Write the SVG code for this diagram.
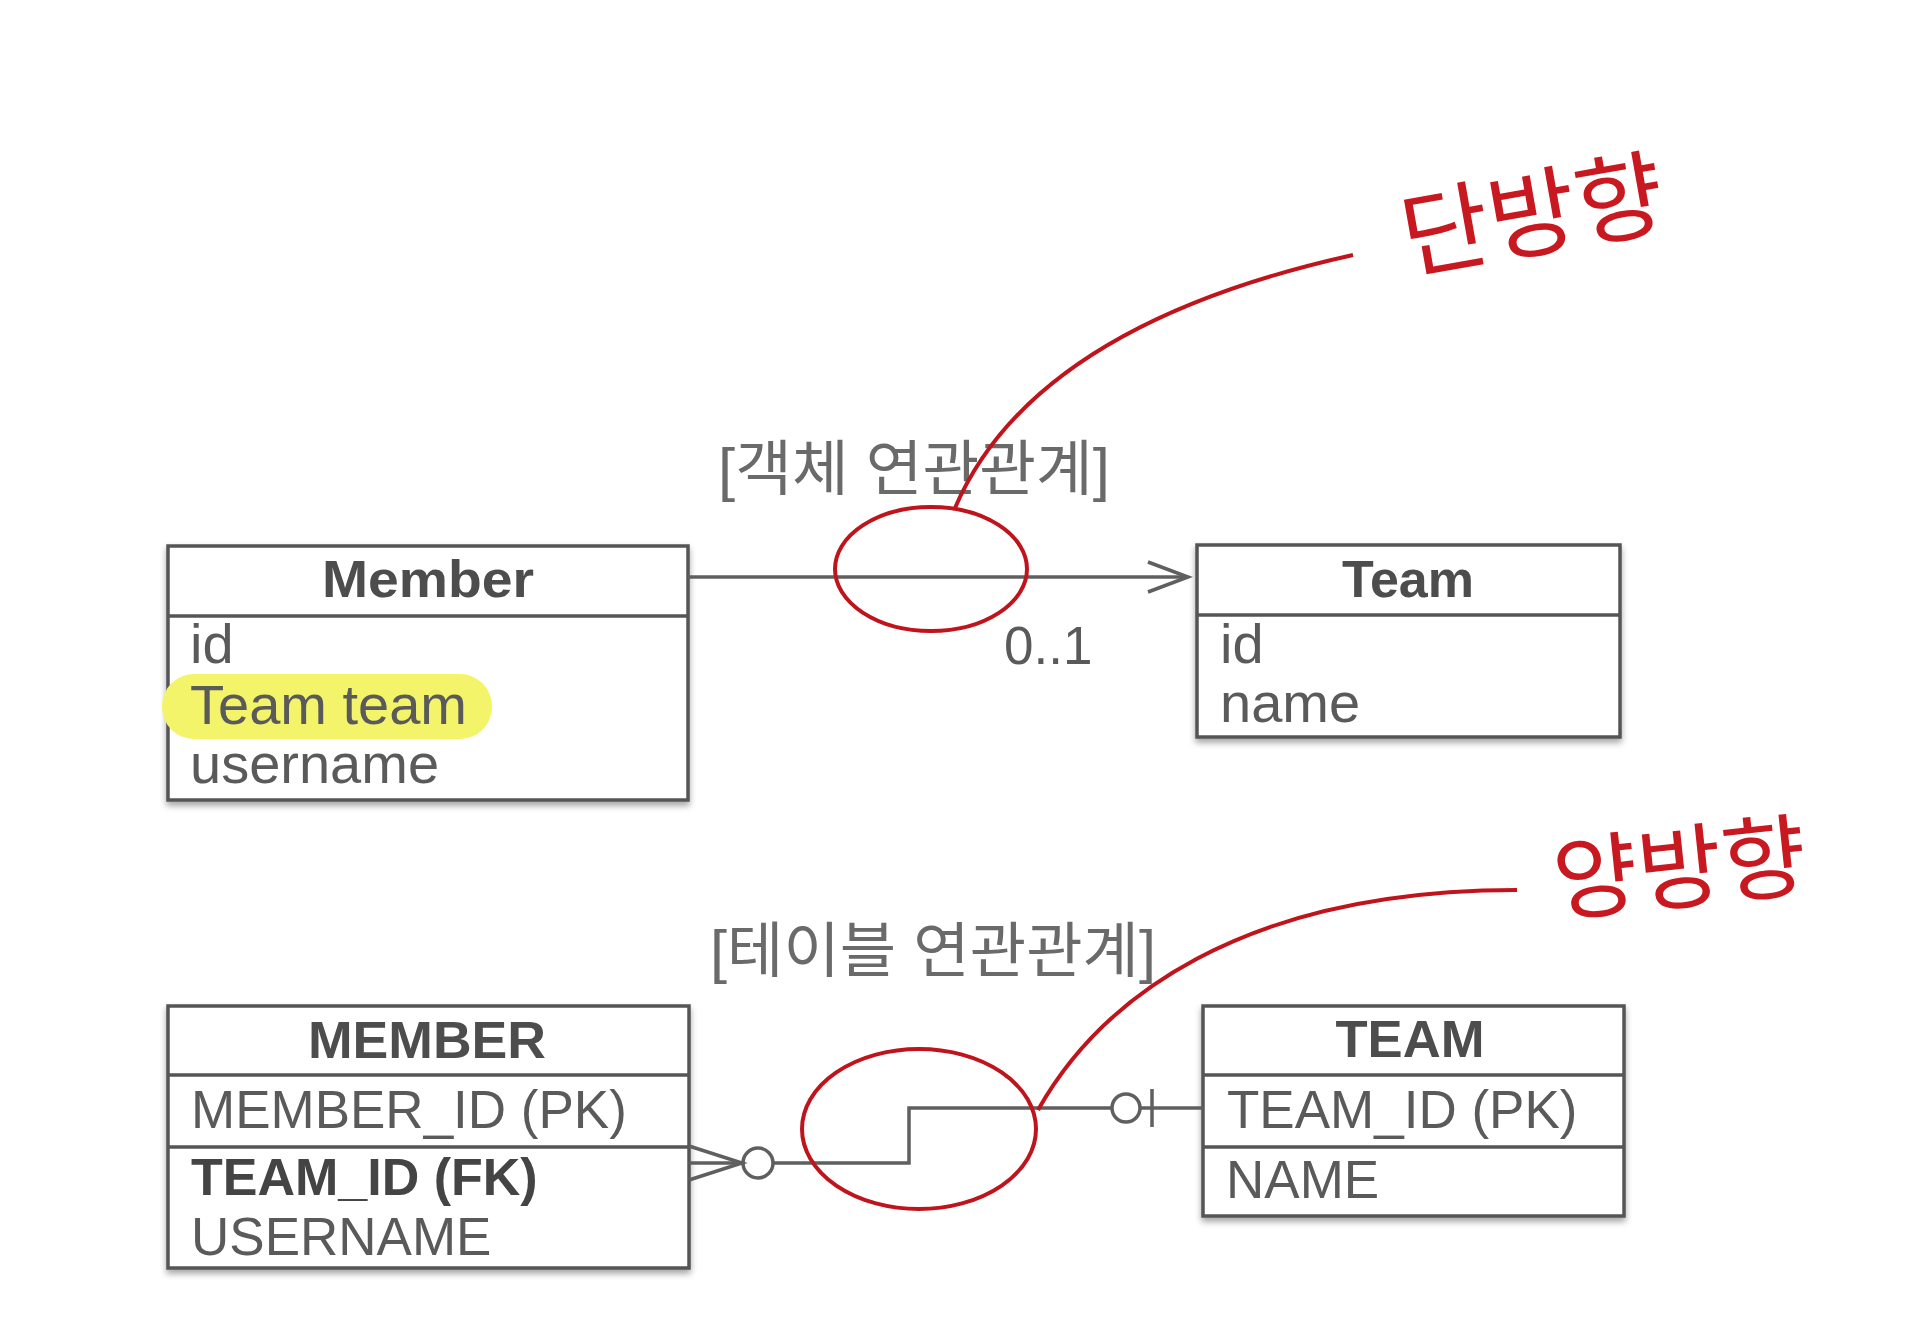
<svg xmlns="http://www.w3.org/2000/svg" width="1920" height="1335" viewBox="0 0 1920 1335">
<defs>
<style>
.box{fill:#fff;stroke:#555;stroke-width:3.5}
.div{stroke:#555;stroke-width:3.5}
.hdr{font-family:"Liberation Sans",Arial,sans-serif;font-weight:bold;font-size:52px;fill:#4d4d4d;text-anchor:middle}
.att{font-family:"Liberation Sans",Arial,sans-serif;font-size:53px;fill:#5a5a5a}
.att2{font-family:"Liberation Sans",Arial,sans-serif;font-size:56px;fill:#5a5a5a}
.attb{font-family:"Liberation Sans",Arial,sans-serif;font-size:52px;font-weight:bold;fill:#444}
.lbl{font-family:"Liberation Sans","Noto Sans CJK KR",sans-serif;font-size:60px;fill:#6a6a6a}
.conn{fill:none;stroke:#5f5f5f;stroke-width:3.5}
.red{fill:none;stroke:#c0141c;stroke-width:4}
.hand{font-family:"Noto Sans CJK KR",sans-serif;font-weight:normal;fill:#c81820;text-anchor:middle;dominant-baseline:central}
</style>
<filter id="sh" x="-5%" y="-5%" width="110%" height="120%">
<feDropShadow dx="0" dy="4" stdDeviation="3" flood-color="#000" flood-opacity="0.35"/>
</filter>
</defs>
<rect width="1920" height="1335" fill="#fff"/>

<!-- labels -->
<text class="lbl" x="718" y="490" textLength="392" lengthAdjust="spacingAndGlyphs">[객체 연관관계]</text>
<text class="lbl" x="710" y="972" textLength="446" lengthAdjust="spacingAndGlyphs">[테이블 연관관계]</text>

<!-- Member class -->
<g id="member">
<rect class="box" x="168" y="546" width="520" height="254" filter="url(#sh)"/>
<line class="div" x1="168" y1="616" x2="688" y2="616"/>
<text class="hdr" x="428" y="597" textLength="212" lengthAdjust="spacingAndGlyphs">Member</text>
<rect x="162" y="674" width="330" height="65" rx="32" fill="#f3f46a"/>
<text class="att2" x="190" y="663">id</text>
<text class="att2" x="190" y="724" fill="#3e3e25">Team team</text>
<text class="att2" x="190" y="783">username</text>
</g>

<!-- Team class -->
<g id="team">
<rect class="box" x="1197" y="545" width="423" height="192" filter="url(#sh)"/>
<line class="div" x1="1197" y1="615" x2="1620" y2="615"/>
<text class="hdr" x="1408" y="597" font-size="50">Team</text>
<text class="att2" x="1220" y="663">id</text>
<text class="att2" x="1220" y="722">name</text>
</g>

<!-- MEMBER table -->
<g id="MEMBER">
<rect class="box" x="168" y="1006" width="521" height="262" filter="url(#sh)"/>
<line class="div" x1="168" y1="1075" x2="689" y2="1075"/>
<line class="div" x1="168" y1="1147" x2="689" y2="1147"/>
<text class="hdr" x="427" y="1058" font-size="54" textLength="238" lengthAdjust="spacingAndGlyphs">MEMBER</text>
<text class="att" x="191" y="1128">MEMBER_ID (PK)</text>
<text class="attb" x="191" y="1195">TEAM_ID (FK)</text>
<text class="att" x="191" y="1255">USERNAME</text>
</g>

<!-- TEAM table -->
<g id="TEAM">
<rect class="box" x="1203" y="1006" width="421" height="210" filter="url(#sh)"/>
<line class="div" x1="1203" y1="1075" x2="1624" y2="1075"/>
<line class="div" x1="1203" y1="1147" x2="1624" y2="1147"/>
<text class="hdr" x="1410" y="1057" font-size="54" textLength="149" lengthAdjust="spacingAndGlyphs">TEAM</text>
<text class="att" x="1227" y="1128">TEAM_ID (PK)</text>
<text class="att" x="1226" y="1198">NAME</text>
</g>

<!-- connectors -->
<g id="connectors">
<line class="conn" x1="688" y1="577" x2="1187" y2="577"/>
<polyline class="conn" points="1148,562 1188,577 1148,592"/>
<text class="att" x="1004" y="664" font-size="54">0..1</text>
<!-- crow's foot -->
<polyline class="conn" points="689,1146 742,1163 689,1180"/>
<line class="conn" x1="689" y1="1163" x2="742" y2="1163"/>
<circle class="conn" cx="758" cy="1163" r="15"/>
<polyline class="conn" points="773,1163 909,1163 909,1108 1111,1108"/>
<circle class="conn" cx="1126" cy="1108" r="14"/>
<line class="conn" x1="1140" y1="1108" x2="1203" y2="1108"/>
<line class="conn" x1="1152" y1="1089" x2="1152" y2="1127"/>
</g>

<!-- annotations -->
<g id="note-uni">
<ellipse class="red" cx="931" cy="569" rx="96" ry="62"/>
<path class="red" d="M955 508 C1010 380 1150 300 1353 255"/>
<text class="hand" x="1531" y="208" font-size="96" transform="rotate(-10 1531 208)">단방향</text>
</g>
<g id="note-bi">
<ellipse class="red" cx="919" cy="1129" rx="117" ry="80"/>
<path class="red" d="M1038 1110 C1100 1000 1240 890 1517 890"/>
<text class="hand" x="1679" y="861" font-size="92" transform="rotate(-6 1679 861)">양방향</text>
</g>
</svg>
